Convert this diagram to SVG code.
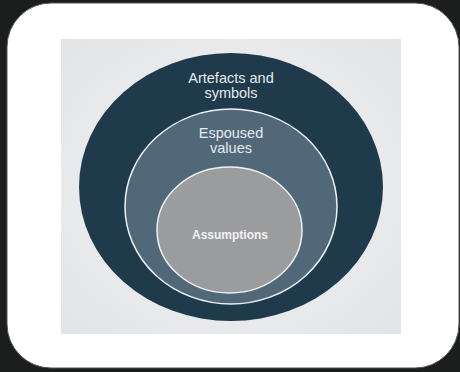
<svg xmlns="http://www.w3.org/2000/svg" width="460" height="372" viewBox="0 0 460 372">
<defs>
<radialGradient id="panelGrad" cx="0.5" cy="0.5" r="0.7">
<stop offset="0" stop-color="#f4f4f5"/>
<stop offset="1" stop-color="#e3e4e6"/>
</radialGradient>
<style>
.lbl{font-family:"Liberation Sans",Arial,sans-serif;fill:#e6eaee;text-anchor:middle;font-size:14.5px}
.ring{stroke:#eef1f3;stroke-width:1.5}
</style>
</defs>
<rect x="0" y="0" width="460" height="372" fill="#1b1e1d"/>
<rect x="7" y="3" width="452" height="365" rx="44" ry="44" fill="#ffffff" stroke="#555" stroke-width="1"/>
<rect x="61" y="39" width="340" height="295" fill="url(#panelGrad)"/>
<g id="artefacts">
<ellipse cx="231" cy="187" rx="152" ry="134" fill="#1f3a4b"/>
<text class="lbl" x="231" y="83">Artefacts and</text>
<text class="lbl" x="231" y="98">symbols</text>
</g>
<g id="espoused">
<ellipse class="ring" cx="231" cy="206.5" rx="106" ry="97.5" fill="#506878"/>
<text class="lbl" x="231" y="138">Espoused</text>
<text class="lbl" x="231" y="153">values</text>
</g>
<g id="assumptions">
<ellipse class="ring" cx="229.5" cy="230" rx="72.5" ry="63" fill="#9b9c9e"/>
<text class="lbl" x="230" y="239" style="font-size:12px;font-weight:bold;fill:#f2f2f2">Assumptions</text>
</g>
<g id="connectors"/>
</svg>
